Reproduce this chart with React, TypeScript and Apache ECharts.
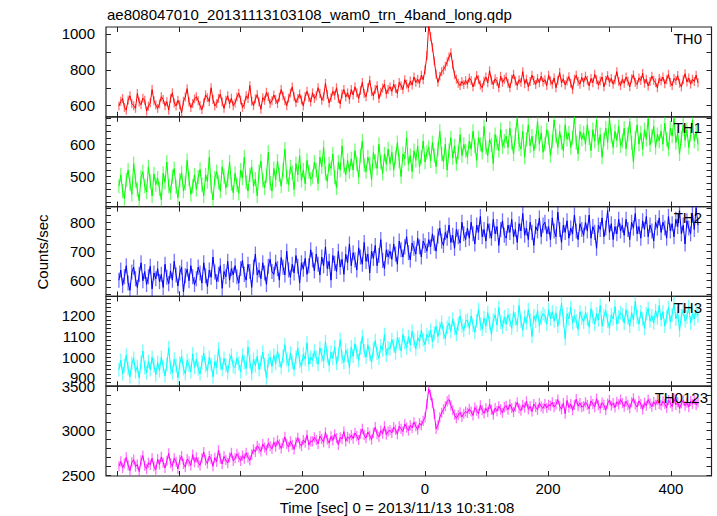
import React, { useEffect, useRef } from "react";
import * as echarts from "echarts";

// ---- data ----
const TITLE = "ae808047010_20131113103108_wam0_trn_4band_long.qdp";
const X_NAME = "Time [sec] 0 = 2013/11/13 10:31:08";
const Y_NAME = "Counts/sec";
const PANEL_NAMES = ["TH0", "TH1", "TH2", "TH3", "TH0123"];
const COLORS = ["#ff0000", "#00ff00", "#0000ff", "#00ffff", "#ff00ff"];

// time bins: start time and bin width [sec]
const T0 = -498;
const DT = 3;

const th0 = [
  598, 625, 640, 590, 575, 632, 655, 612, 600, 585, 668, 620, 605, 642, 630, 570, 598, 615, 690, 628, 604,
  585, 610, 650, 635, 600, 622, 575, 640, 672, 615, 598, 630, 605, 560, 625, 648, 695, 620, 590, 612, 638,
  650, 628, 600, 578, 615, 660, 645, 622, 700, 635, 598, 612, 640, 665, 620, 585, 630, 655, 610, 642, 600,
  615, 648, 670, 632, 590, 608, 655, 640, 712, 625, 600, 638, 662, 620, 580, 645, 630, 675, 650, 612, 628,
  660, 635, 612, 648, 690, 655, 628, 600, 642, 670, 705, 650, 618, 640, 665, 632, 598, 652, 680, 645, 620,
  672, 640, 655, 700, 668, 630, 650, 725, 662, 615, 645, 680, 658, 700, 640, 610, 665, 690, 648, 672, 635,
  690, 660, 705, 672, 640, 685, 730, 668, 650, 700, 742, 678, 655, 690, 712, 640, 675, 698, 720, 665, 690,
  705, 680, 720, 695, 668, 730, 712, 690, 745, 720, 700, 738, 715, 760, 730, 748, 725, 770, 745, 800, 880,
  1050, 985, 925, 850, 775, 730, 765, 790, 800, 820, 845, 872, 895, 828, 772, 748, 725, 712, 735, 718, 740,
  720, 755, 740, 705, 732, 768, 745, 715, 700, 738, 760, 728, 795, 742, 718, 750, 735, 700, 765, 730, 748,
  760, 725, 700, 748, 775, 738, 712, 745, 730, 790, 722, 748, 705, 735, 770, 740, 718, 752, 728, 765, 732,
  745, 712, 770, 738, 720, 755, 700, 742, 785, 728, 750, 715, 738, 762, 725, 690, 748, 770, 735, 720, 758,
  730, 765, 742, 710, 752, 728, 775, 745, 715, 738, 760, 705, 742, 768, 730, 752, 720, 745, 790, 735, 712,
  748, 725, 760, 738, 705, 750, 772, 730, 718, 755, 740, 780, 725, 748, 710, 735, 765, 742, 728, 700, 752,
  738, 760, 722, 745, 775, 730, 712, 752, 740, 768, 725, 705, 745, 778, 732, 755, 720, 748, 735, 770, 728,
];

const th1 = [
  470, 505, 455, 432, 490, 520, 478, 445, 540, 488, 460, 425, 498, 515, 470, 452, 530, 485, 440, 508, 475,
  495, 462, 428, 510, 482, 545, 470, 450, 500, 525, 468, 435, 488, 512, 455, 478, 550, 492, 445, 470, 505,
  460, 498, 522, 475, 440, 505, 485, 560, 470, 428, 495, 515, 482, 455, 530, 500, 465, 490, 545, 478, 450,
  510, 475, 448, 520, 495, 560, 482, 455, 505, 530, 470, 492, 440, 515, 548, 488, 465, 502, 575, 480, 455,
  525, 490, 548, 505, 470, 520, 585, 498, 475, 530, 512, 460, 540, 505, 565, 488, 520, 478, 550, 515, 492,
  500, 545, 520, 478, 560, 530, 590, 510, 485, 540, 525, 570, 498, 465, 545, 520, 595, 532, 505, 550, 515,
  555, 520, 580, 540, 498, 565, 610, 535, 515, 560, 540, 490, 575, 548, 525, 600, 545, 510, 570, 538, 585,
  540, 575, 520, 560, 605, 548, 500, 570, 555, 620, 538, 565, 515, 580, 550, 595, 530, 560, 610, 545, 575,
  590, 548, 605, 565, 530, 585, 640, 570, 545, 600, 520, 580, 620, 558, 595, 540, 575, 630, 565, 600, 580,
  560, 610, 585, 640, 595, 550, 620, 600, 575, 655, 590, 565, 615, 598, 540, 630, 605, 580, 645, 592, 610,
  625, 590, 650, 605, 570, 630, 680, 600, 585, 640, 560, 615, 660, 595, 625, 580, 610, 670, 600, 635, 575,
  600, 645, 620, 565, 610, 675, 625, 590, 640, 605, 580, 660, 615, 635, 590, 620, 685, 605, 570, 640, 615,
  635, 600, 660, 620, 580, 645, 610, 675, 598, 630, 560, 615, 650, 605, 680, 625, 590, 640, 612, 655, 595,
  610, 650, 585, 630, 670, 605, 545, 620, 660, 600, 635, 585, 645, 615, 680, 598, 625, 655, 590, 630, 610,
  640, 600, 665, 615, 585, 650, 625, 680, 605, 635, 570, 620, 660, 612, 645, 590, 630, 675, 610, 640, 600,
];

const th2 = [
  600, 635, 582, 612, 650, 590, 565, 628, 645, 605, 575, 620, 660, 598, 630, 585, 612, 648, 570, 625, 605,
  640, 595, 620, 575, 655, 610, 588, 632, 600, 665, 618, 580, 625, 645, 560, 615, 638, 598, 650, 612, 585,
  605, 645, 625, 590, 660, 615, 578, 635, 610, 680, 628, 595, 620, 650, 572, 630, 612, 665, 600, 640, 618,
  650, 612, 590, 640, 668, 620, 600, 655, 630, 575, 645, 690, 618, 635, 605, 660, 625, 585, 648, 672, 630,
  620, 662, 640, 600, 678, 645, 618, 700, 635, 610, 655, 625, 685, 648, 590, 660, 638, 675, 620, 650, 705,
  670, 632, 690, 655, 618, 680, 650, 715, 640, 665, 600, 685, 658, 630, 700, 645, 672, 620, 690, 660, 725,
  650, 695, 670, 635, 712, 680, 655, 730, 665, 690, 625, 700, 675, 720, 650, 685, 740, 668, 640, 705, 680,
  700, 672, 725, 690, 655, 735, 705, 680, 715, 750, 695, 670, 728, 710, 690, 745, 715, 680, 735, 720, 700,
  740, 715, 760, 728, 700, 752, 780, 735, 720, 765, 745, 790, 730, 755, 710, 775, 750, 728, 800, 760, 740,
  780, 745, 800, 760, 725, 790, 765, 820, 750, 775, 735, 795, 770, 745, 810, 760, 785, 720, 775, 805, 755,
  745, 790, 765, 810, 750, 775, 730, 795, 770, 830, 755, 780, 740, 800, 765, 720, 785, 770, 815, 750, 790,
  800, 760, 785, 740, 815, 770, 750, 835, 775, 730, 790, 765, 805, 745, 780, 760, 825, 770, 740, 795, 775,
  755, 800, 770, 825, 745, 785, 765, 710, 790, 775, 815, 750, 780, 840, 765, 795, 740, 785, 760, 810, 770,
  790, 755, 810, 775, 740, 800, 780, 830, 760, 785, 745, 805, 775, 820, 750, 790, 770, 735, 800, 780, 815,
  765, 800, 780, 745, 820, 770, 795, 750, 810, 785, 840, 760, 790, 725, 805, 780, 760, 830, 775, 850, 790,
];

const th3 = [
  940, 985, 920, 960, 1010, 945, 905, 970, 995, 930, 955, 900, 975, 1030, 950, 925, 980, 940, 1000, 960, 915,
  975, 935, 1000, 955, 910, 965, 1045, 950, 925, 990, 960, 900, 970, 1005, 945, 920, 985, 960, 930, 1015, 950,
  990, 945, 920, 975, 1020, 960, 935, 1000, 965, 905, 980, 950, 1040, 970, 940, 995, 960, 925, 985, 1010, 955,
  950, 995, 970, 930, 1010, 975, 945, 1050, 980, 920, 990, 960, 1005, 940, 975, 1025, 965, 900, 985, 1000, 955,
  1010, 970, 1030, 985, 950, 1005, 1060, 990, 960, 1020, 975, 940, 1000, 1045, 980, 955, 1015, 990, 1070, 965, 1000,
  985, 1030, 1000, 965, 1045, 1010, 980, 1075, 1005, 960, 1025, 995, 1050, 970, 1015, 1085, 1000, 975, 1035, 1010, 950,
  1050, 1005, 1065, 1025, 985, 1045, 1100, 1030, 1000, 1060, 1015, 975, 1040, 1080, 1020, 995, 1055, 1035, 1110, 1010, 1045,
  1040, 1085, 1055, 1020, 1095, 1065, 1030, 1110, 1070, 1045, 1100, 1060, 1125, 1080, 1040, 1095, 1075, 1130, 1085, 1060, 1110,
  1095, 1130, 1075, 1115, 1150, 1100, 1140, 1170, 1120, 1090, 1145, 1165, 1125, 1185, 1140, 1110, 1160, 1200, 1150, 1130, 1175,
  1180, 1140, 1200, 1155, 1120, 1175, 1230, 1160, 1135, 1190, 1150, 1215, 1165, 1110, 1180, 1205, 1155, 1240, 1170, 1145, 1195,
  1160, 1205, 1180, 1140, 1220, 1185, 1155, 1250, 1175, 1130, 1195, 1165, 1230, 1180, 1100, 1200, 1175, 1225, 1150, 1190, 1210,
  1200, 1160, 1230, 1185, 1220, 1175, 1215, 1150, 1195, 1260, 1180, 1090, 1210, 1185, 1240, 1165, 1200, 1175, 1135, 1220, 1190,
  1170, 1215, 1185, 1145, 1235, 1195, 1160, 1210, 1180, 1250, 1150, 1200, 1225, 1175, 1140, 1205, 1185, 1245, 1160, 1195, 1215,
  1205, 1165, 1230, 1190, 1150, 1215, 1180, 1270, 1195, 1160, 1220, 1185, 1140, 1210, 1235, 1175, 1200, 1165, 1225, 1190, 1250,
  1180, 1220, 1150, 1195, 1240, 1170, 1205, 1260, 1185, 1215, 1130, 1200, 1230, 1175, 1195, 1245, 1165, 1210, 1185, 1225, 1200,
];

const th0123 = [
  2600, 2655, 2580, 2630, 2700, 2610, 2550, 2645, 2675, 2595, 2620, 2540, 2665, 2720, 2605, 2570, 2640, 2615, 2690, 2600, 2560,
  2680, 2620, 2705, 2640, 2580, 2660, 2745, 2635, 2600, 2690, 2650, 2570, 2670, 2715, 2625, 2590, 2680, 2655, 2610, 2730, 2645,
  2700, 2640, 2610, 2690, 2760, 2665, 2630, 2715, 2680, 2600, 2695, 2650, 2780, 2685, 2625, 2710, 2670, 2635, 2700, 2750, 2660,
  2690, 2740, 2700, 2660, 2720, 2685, 2750, 2700, 2665, 2730, 2790, 2760, 2830, 2800, 2765, 2850, 2810, 2780, 2860, 2825, 2795,
  2870, 2820, 2890, 2845, 2800, 2860, 2930, 2850, 2815, 2880, 2840, 2790, 2870, 2920, 2855, 2825, 2895, 2865, 2950, 2840, 2880,
  2880, 2925, 2895, 2850, 2940, 2905, 2870, 2980, 2900, 2860, 2935, 2890, 2960, 2915, 2840, 2925, 2905, 2990, 2880, 2930, 2910,
  2950, 2910, 2975, 2940, 2895, 2965, 3020, 2950, 2915, 2985, 2945, 2900, 2975, 3040, 2960, 2930, 3000, 2965, 3050, 2955, 2990,
  3005, 2975, 3040, 3010, 2960, 3050, 3020, 2990, 3075, 3035, 3000, 3060, 3030, 3095, 3050, 3010, 3085, 3060, 3110, 3150, 3300,
  3470, 3400, 3310, 3190, 3020, 3060, 3150, 3200, 3240, 3275, 3330, 3350, 3285, 3230, 3180, 3140, 3175, 3205, 3155, 3190, 3215,
  3200, 3245, 3215, 3170, 3260, 3225, 3190, 3285, 3230, 3195, 3250, 3210, 3300, 3235, 3180, 3255, 3220, 3275, 3240, 3200, 3265,
  3280, 3235, 3295, 3255, 3210, 3270, 3320, 3250, 3225, 3290, 3260, 3330, 3240, 3275, 3215, 3300, 3265, 3235, 3310, 3270, 3250,
  3300, 3255, 3290, 3280, 3320, 3265, 3295, 3350, 3275, 3240, 3310, 3190, 3340, 3260, 3300, 3230, 3290, 3355, 3275, 3310, 3265,
  3275, 3320, 3290, 3245, 3335, 3300, 3265, 3360, 3285, 3250, 3315, 3290, 3230, 3305, 3345, 3280, 3310, 3260, 3325, 3295, 3350,
  3310, 3270, 3330, 3290, 3250, 3320, 3365, 3295, 3265, 3335, 3300, 3240, 3315, 3280, 3350, 3305, 3270, 3325, 3290, 3345, 3300,
  3285, 3330, 3300, 3255, 3345, 3310, 3270, 3360, 3290, 3320, 3250, 3305, 3340, 3280, 3315, 3265, 3335, 3300, 3350, 3290, 3320,
];

// 1-sigma errors per band [counts/sec]
const ERRORS = [25, 22, 26, 33, 57];

// axis ranges and ticks
const X_MIN = -519;
const X_MAX = 466;
const X_TICKS = [-500, -400, -300, -200, -100, 0, 100, 200, 300, 400];
const X_LABELS = [-400, -200, 0, 200, 400];

const Y_MIN = [538, 407, 544, 860, 2490];
const Y_MAX = [1039, 685, 854, 1294, 3500];
const Y_TICKS = [
  [600, 700, 800, 900, 1000],
  [420, 440, 460, 480, 500, 520, 540, 560, 580, 600, 620, 640, 660, 680],
  [550, 575, 600, 625, 650, 675, 700, 725, 750, 775, 800, 825, 850],
  [880, 900, 920, 940, 960, 980, 1000, 1020, 1040, 1060, 1080, 1100, 1120, 1140, 1160, 1180, 1200, 1220, 1240, 1260, 1280],
  [2500, 2600, 2700, 2800, 2900, 3000, 3100, 3200, 3300, 3400, 3500],
];
const Y_LABELS = [
  [600, 800, 1000],
  [500, 600],
  [600, 700, 800],
  [900, 1000, 1100, 1200],
  [2500, 3000, 3500],
];

const SERIES = [th0, th1, th2, th3, th0123];

// ---- layout ----
const FONT = '"Liberation Sans", Arial, Helvetica, sans-serif';
const LEFT = 106;
const WIDTH = 605.5;
const TOP0 = 27;
const PANEL_H = 89.8;
const AXIS_COLOR = "#222";

export default function App() {
  const ref = useRef<HTMLDivElement>(null);

  useEffect(() => {
    document.body.style.margin = "0";
    const chart = echarts.init(ref.current as HTMLDivElement, null, { renderer: "svg" });

    const grids: any[] = [];
    const xAxes: any[] = [];
    const yAxes: any[] = [];
    const series: any[] = [];
    const graphics: any[] = [];

    const minus = (v: number) => String(v).replace("-", "\u2212");
    const plain = (v: number) => String(v);

    for (let i = 0; i < 5; i++) {
      const top = TOP0 + PANEL_H * i;
      grids.push({
        left: LEFT,
        top,
        width: WIDTH,
        height: PANEL_H,
        show: true,
        borderColor: AXIS_COLOR,
        borderWidth: 1.2,
        backgroundColor: "transparent",
      });
      const tickStyle = { color: AXIS_COLOR, width: 1 };
      ["bottom", "top"].forEach((pos) => {
        xAxes.push({
          gridIndex: i,
          type: "value",
          min: X_MIN,
          max: X_MAX,
          position: pos,
          axisLine: { show: false, onZero: false },
          splitLine: { show: false },
          axisTick: { show: true, inside: true, length: 5, customValues: X_TICKS, lineStyle: tickStyle },
          axisLabel:
            pos === "bottom" && i === 4
              ? {
                  show: true,
                  customValues: X_LABELS,
                  formatter: minus,
                  fontSize: 15,
                  fontFamily: FONT,
                  color: "#000",
                  margin: 5,
                }
              : { show: false },
        });
      });
      ["left", "right"].forEach((pos) => {
        yAxes.push({
          gridIndex: i,
          type: "value",
          min: Y_MIN[i],
          max: Y_MAX[i],
          position: pos,
          axisLine: { show: false, onZero: false },
          splitLine: { show: false },
          axisTick: { show: true, inside: true, length: 5, customValues: Y_TICKS[i], lineStyle: tickStyle },
          axisLabel:
            pos === "left"
              ? {
                  show: true,
                  customValues: Y_LABELS[i],
                  formatter: plain,
                  fontSize: 15,
                  fontFamily: FONT,
                  color: "#000",
                  margin: 11,
                }
              : { show: false },
        });
      });

      const vals = SERIES[i];
      const color = COLORS[i];
      const yMin = Y_MIN[i];
      const yMax = Y_MAX[i];
      series.push({
        type: "custom",
        xAxisIndex: 2 * i,
        yAxisIndex: 2 * i,
        silent: true,
        z: 1,
        data: vals.map((v, k) => [T0 + k * DT, v, ERRORS[i]]),
        encode: { x: 0, y: 1 },
        renderItem: (params: any, api: any) => {
          const x = api.value(0);
          const y = api.value(1);
          const e = api.value(2);
          const lo = Math.max(y - e, yMin);
          const hi = Math.min(y + e, yMax);
          if (lo >= hi) return null;
          const a = api.coord([x, lo]);
          const b = api.coord([x, hi]);
          return {
            type: "line",
            shape: { x1: a[0], y1: a[1], x2: b[0], y2: b[1] },
            style: { stroke: color, lineWidth: 1.3, opacity: 0.55 },
          };
        },
      });
      series.push({
        type: "line",
        xAxisIndex: 2 * i,
        yAxisIndex: 2 * i,
        silent: true,
        z: 2,
        symbol: "none",
        showSymbol: false,
        clip: true,
        data: vals.map((v, k) => [T0 + k * DT, v]),
        lineStyle: { color, width: 1 },
        itemStyle: { color },
      });

      graphics.push({
        type: "text",
        x: i === 4 ? 708 : 702,
        y: top + 11,
        style: {
          text: PANEL_NAMES[i],
          fontSize: 15,
          fontFamily: FONT,
          fill: "#000",
          textAlign: "right",
          textVerticalAlign: "middle",
        },
        z: 10,
      });
    }

    graphics.push({
      type: "text",
      x: 107,
      y: 14,
      style: { text: TITLE, fontSize: 15, fontFamily: FONT, fill: "#000", textAlign: "left", textVerticalAlign: "middle" },
    });
    graphics.push({
      type: "text",
      x: 397,
      y: 507,
      style: { text: X_NAME, fontSize: 15, fontFamily: FONT, fill: "#000", textAlign: "center", textVerticalAlign: "middle" },
    });
    graphics.push({
      type: "text",
      x: 42,
      y: 252,
      rotation: Math.PI / 2,
      style: { text: Y_NAME, fontSize: 15, fontFamily: FONT, fill: "#000", textAlign: "center", textVerticalAlign: "middle" },
    });

    chart.setOption({
      animation: false,
      backgroundColor: "#fff",
      grid: grids,
      xAxis: xAxes,
      yAxis: yAxes,
      series,
      graphic: graphics,
    });

    return () => chart.dispose();
  }, []);

  return <div ref={ref} style={{ width: 717, height: 516 }} />;
}
